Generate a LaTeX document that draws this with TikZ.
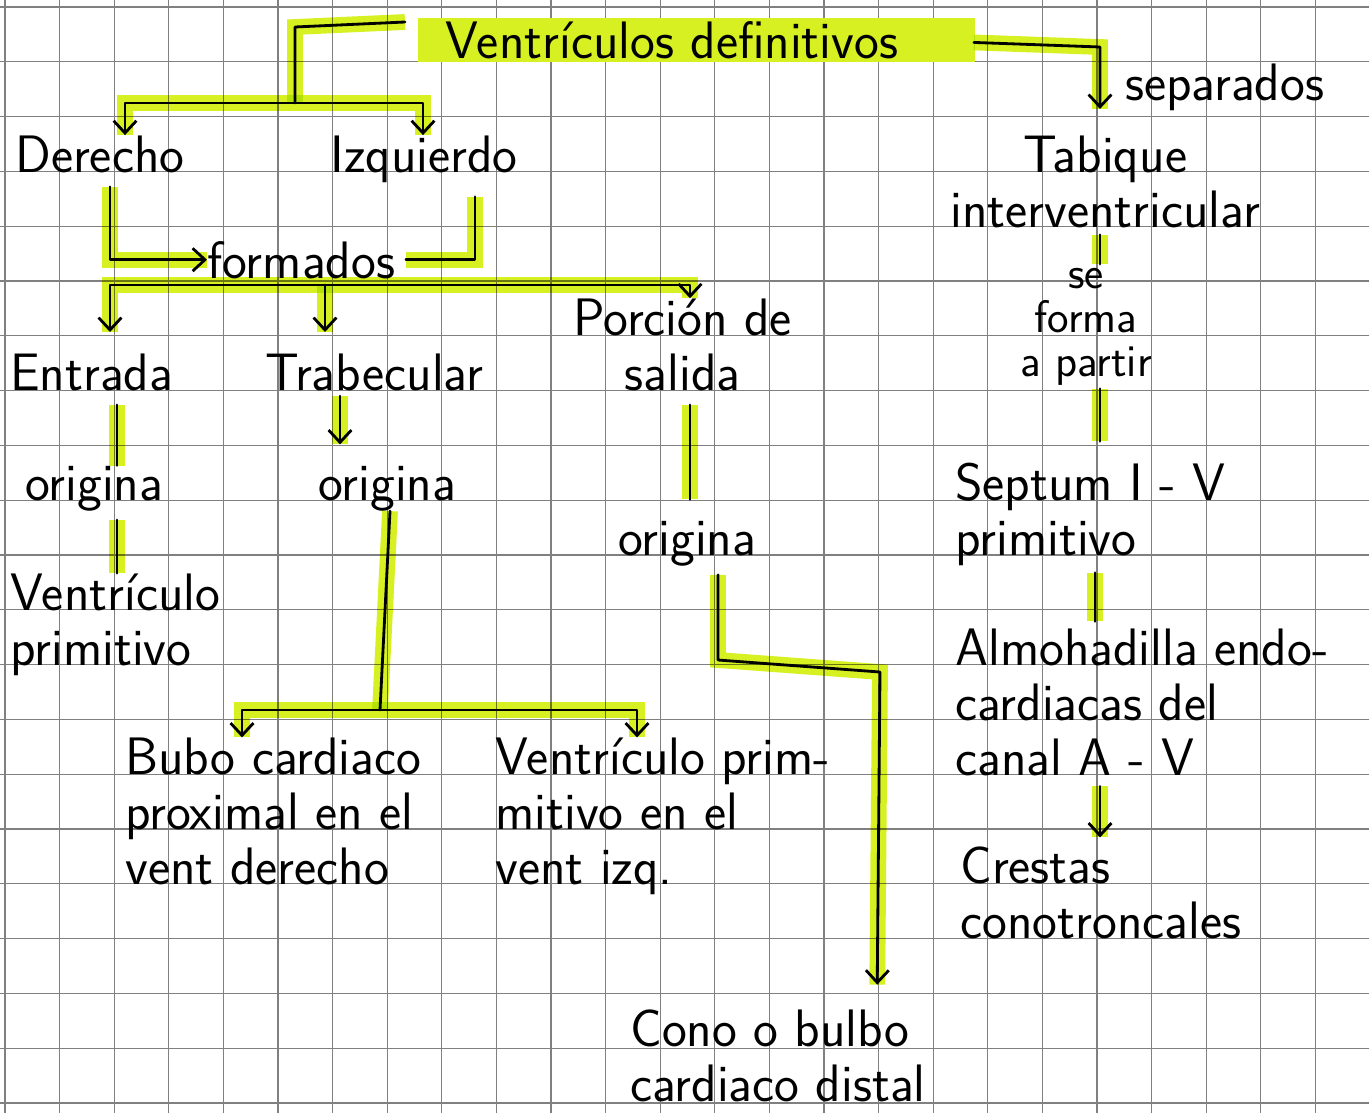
\documentclass[tikz,border=0pt]{standalone}
\usepackage{tikz}
\usetikzlibrary{arrows.meta, calc}

\definecolor{hilite}{RGB}{214,240,34}
\newcommand{\handfont}{\sffamily\fontsize{30}{31.2}\selectfont}
\newcommand{\tightfont}{\sffamily\fontsize{26}{25}\selectfont}

\tikzset{
    paper line/.style={black!50, line width=0.6pt},
    marker/.style={draw=hilite, line width=9pt, blend mode=multiply, arrows=-},
    pen/.style={black, line width=1.6pt, line join=round, line cap=round, preaction={marker}},
    word/.style={inner sep=0pt, font=\handfont, anchor=base west},
    >={Straight Barb[length=7pt,width=13pt]}
}

\begin{document}
\begin{tikzpicture}[x=0.02cm, y=-0.02cm]
    \def\xlines{25}
    \def\ylines{20}
    \def\rasterx{54.6}
    \def\rastery{54.8}

    \useasboundingbox (0,0) rectangle (1369,1113);
    \fill[white] (0,0) rectangle (1369,1113);

    % squared paper
    \foreach \x in {0,...,\xlines}
    {
        \draw[paper line] (5 + \x * \rasterx, 0) -- (5 + \x * \rasterx, 1113);
    }
    \foreach \y in {0,...,\ylines}
    {
        \draw[paper line] (0, 7 + \y * \rastery) -- (1369, 7 + \y * \rastery);
    }

    % title band
    \fill[hilite] (418,18) rectangle (975,62);

    % multi-line nodes sit on the baseline of their last line
    \node[word] (title) at (445,58) {Ventrículos definitivos};
    \node[word] (separados) at (1125,100) {separados};

    \node[word] (derecho) at (15,172) {Derecho};
    \node[word] (izquierdo) at (330,172) {Izquierdo};
    \node[word] (formados) at (207,278) {formados};

    \node[word] (entrada) at (10,390) {Entrada};
    \node[word] (trabecular) at (265,390) {Trabecular};
    \node[word, align=center] (porcion) at (573,390) {Porción de\\salida};

    \node[word] (origina1) at (25,500) {origina};
    \node[word] (origina2) at (318,500) {origina};
    \node[word] (origina3) at (618,555) {origina};

    \node[word, align=left] (ventriculo) at (10,665) {Ventrículo\\primitivo};
    \node[word, align=left] (bulbo) at (125,884) {Bubo cardiaco\\proximal en el\\vent derecho};
    \node[word, align=left] (ventizq) at (495,884) {Ventrículo prim-\\mitivo en el\\vent izq.};
    \node[word, align=left] (cono) at (630,1101) {Cono o bulbo\\cardiaco distal};

    \node[word, align=center] (tabique) at (950,227) {Tabique\\interventricular};
    \node[word, align=center, font=\tightfont] (seforma) at (1020,376) {se\\forma\\a partir};
    \node[word, align=left] (septum) at (955,555) {Septum I - V\\primitivo};
    \node[word, align=left] (almohadilla) at (955,775) {Almohadilla endo-\\cardiacas del\\canal A - V};
    \node[word, align=left] (crestas) at (960,938) {Crestas\\conotroncales};

    % title to both ventricles
    \coordinate (tl) at (405,22);
    \coordinate (split1) at (295,103);
    \draw[pen] (tl) -- (295,27) -- (split1);
    \draw[pen,<->] (125,0 |- derecho.north) |- (split1) -| (423,0 |- izquierdo.north);

    % title to septum side
    \draw[pen,->,shorten <=43pt,shorten >=15pt] (title.east) -- (1100,47) -- (1100,0 |- tabique.north);

    % both ventricles are formed
    \draw[pen,->,shorten <=8pt] (110,0 |- derecho.south) |- (formados.west);
    \draw[pen,shorten <=8pt,shorten >=6pt] (475,0 |- izquierdo.south) |- (formados.east);

    % three portions
    \coordinate (bar2) at (308,285);
    \draw[pen,<->,shorten <=12pt] (110,0 |- entrada.north) |- (bar2) -| (690,0 |- porcion.north);
    \draw[pen,->,shorten >=12pt] (325,0 |- bar2) -- (325,0 |- trabecular.north);

    % entrada
    \draw[pen,shorten <=8pt] (117,0 |- entrada.south) -- (117,0 |- origina1.north);
    \draw[pen,shorten <=5pt] (117,0 |- origina1.south) -- (117,0 |- ventriculo.north);

    % trabecular
    \draw[pen,->,shorten <=3pt,shorten >=12pt] (340,0 |- trabecular.south) -- (340,0 |- origina2.north);
    \coordinate (split3) at (380,710);
    \draw[pen] (390,0 |- origina2.south) -- (split3);
    \draw[pen,<->] (242,0 |- bulbo.north) |- (split3) -| (637,0 |- ventizq.north);

    % salida
    \draw[pen,shorten <=8pt,shorten >=12pt] (690,0 |- porcion.south) -- (690,0 |- origina3.north);
    \draw[pen,->,shorten <=5pt,shorten >=14pt] (718,0 |- origina3.south) -- (718,660) -- (880,672) -- (877,0 |- cono.north);

    % septum chain
    \draw[pen,shorten <=4pt,shorten >=2pt] (1100,0 |- tabique.south) -- (1100,0 |- seforma.north);
    \draw[pen,shorten <=2pt,shorten >=12pt] (1100,0 |- seforma.south) -- (1100,0 |- septum.north);
    \draw[pen,shorten <=4pt,shorten >=4pt] (1095,0 |- septum.south) -- (1095,0 |- almohadilla.north);
    \draw[pen,->,shorten <=6pt,shorten >=5pt] (1100,0 |- almohadilla.south) -- (1100,0 |- crestas.north);
\end{tikzpicture}
\end{document}
